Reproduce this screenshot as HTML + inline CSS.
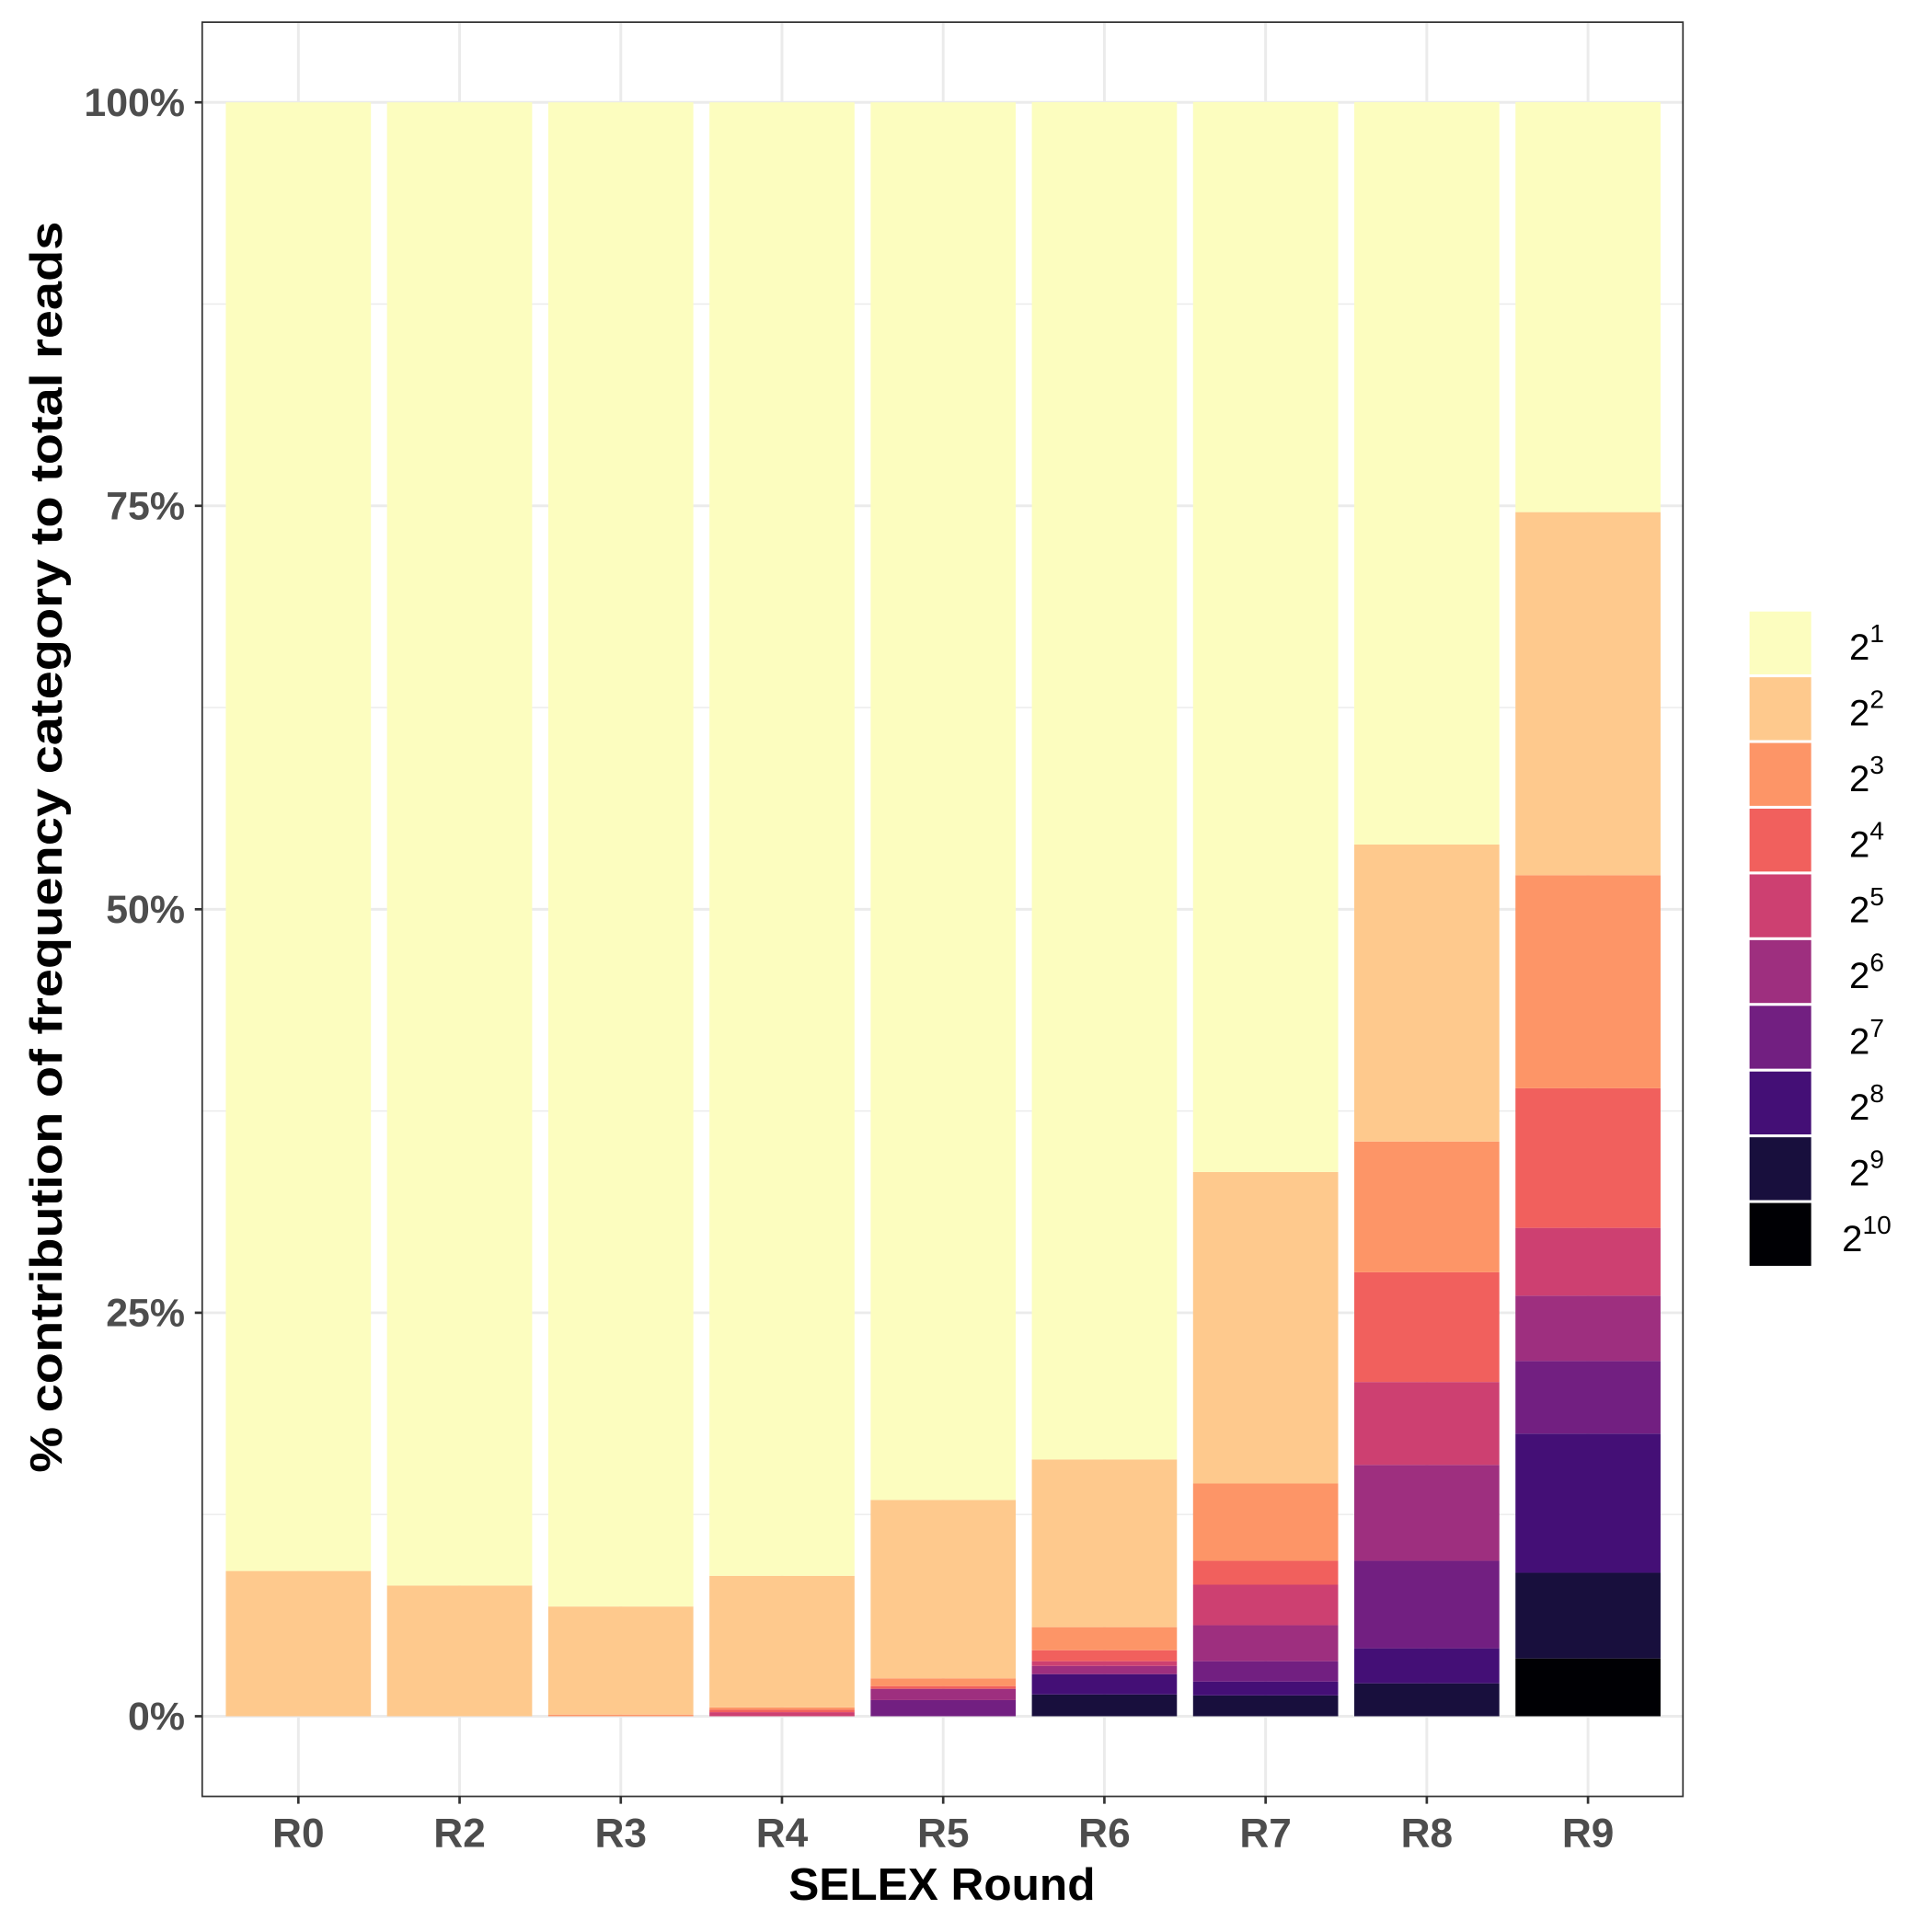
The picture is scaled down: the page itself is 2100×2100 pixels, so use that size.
<!DOCTYPE html>
<html><head><meta charset="utf-8"><style>html,body{margin:0;padding:0;background:#fff}svg{display:block}</style></head>
<body>
<svg id="chart" width="2100" height="2100" viewBox="0 0 1567 1567" xmlns="http://www.w3.org/2000/svg" font-family="'Liberation Sans', sans-serif"></svg>
<script>
const categories = ["R0","R2","R3","R4","R5","R6","R7","R8","R9"];
const seriesNames = ["1","2","3","4","5","6","7","8","9","10"];
const s1  = [91.0, 91.9, 93.2, 91.3, 86.6, 84.1, 66.3, 46.0, 25.4];
const s2  = [9.0, 8.1, 6.7, 8.15, 11.05, 10.39, 19.3, 18.4, 22.5];
const s3  = [0, 0, 0.1, 0.15, 0.48, 1.43, 4.79, 8.1, 13.2];
const s4  = [0, 0, 0, 0.15, 0.17, 0.68, 1.48, 6.8, 8.65];
const s5  = [0, 0, 0, 0.25, 0, 0.29, 2.51, 5.14, 4.2];
const s6  = [0, 0, 0, 0, 0.7, 0.51, 2.23, 5.94, 4.05];
const s7  = [0, 0, 0, 0, 1.0, 0, 1.26, 5.42, 4.5];
const s8  = [0, 0, 0, 0, 0, 1.26, 0.86, 2.17, 8.62];
const s9  = [0, 0, 0, 0, 0, 1.35, 1.29, 2.04, 5.31];
const s10 = [0, 0, 0, 0, 0, 0, 0, 0, 3.58];
const yTicks = [0, 25, 50, 75, 100];
const yTickLabels = ["0%", "25%", "50%", "75%", "100%"];
const colors = ["#FCFDBF","#FEC98D","#FD9567","#F1605D","#CD4071","#9E2F7F","#721F81","#440F76","#180F3D","#000004"];

const NS = "http://www.w3.org/2000/svg";
const svg = document.getElementById("chart");
const P = {l:164, r:1365, t:18, b:1457};
const y = v => 1392 - v * 13.09;
const step = 130.75;
const x = i => 242 + i * step;
const bw = step * 0.9;
function mk(tag, attrs, parent){const e=document.createElementNS(NS,tag);for(const k in attrs)e.setAttribute(k,attrs[k]);(parent||svg).appendChild(e);return e;}

const grid = mk("g",{});


for (let v = -12.5; v <= 112.5; v += 12.5) {
  const yy = y(v); if (yy < P.t || yy > P.b) continue;
  const major = v % 25 === 0;
  mk("line",{x1:P.l,x2:P.r,y1:yy,y2:yy,stroke:"#ebebeb","stroke-width":major?2.2:1.1},grid);
}
categories.forEach((c,i)=>mk("line",{x1:x(i),x2:x(i),y1:P.t,y2:P.b,stroke:"#ebebeb","stroke-width":2.2},grid));

const allSeries = [s1,s2,s3,s4,s5,s6,s7,s8,s9,s10];
categories.forEach((c,i)=>{
  const g = mk("g",{});
  
  
  let cum = 0;
  for (let k = allSeries.length-1; k >= 0; k--) {
    const v = allSeries[k][i]; if (!v) continue;
    const r = mk("rect",{x:x(i)-bw/2,y:y(cum+v),width:bw,height:v*13.09,fill:colors[k]},g);
    
    
    cum += v;
  }
});

const border = mk("rect",{x:P.l,y:P.t,width:P.r-P.l,height:P.b-P.t,fill:"none",stroke:"#333","stroke-width":1.3});



yTicks.forEach((v,i)=>{
  mk("line",{x1:P.l-6,x2:P.l,y1:y(v),y2:y(v),stroke:"#333","stroke-width":2});
  const t = mk("text",{x:P.l-14,y:y(v)+11,"text-anchor":"end","font-size":32,"font-weight":"bold",fill:"#4d4d4d"});
  t.textContent = yTickLabels[i];
  
  
});
categories.forEach((c,i)=>{
  mk("line",{x1:x(i),x2:x(i),y1:P.b,y2:P.b+6,stroke:"#333","stroke-width":2});
  const t = mk("text",{x:x(i),y:P.b+41,"text-anchor":"middle","font-size":33,"font-weight":"bold",fill:"#4d4d4d"});
  t.textContent = c;
  
  
});

const xt = mk("text",{x:764,y:1541,"text-anchor":"middle","font-size":37,"font-weight":"bold",fill:"#000"});
xt.textContent = "SELEX Round";


const yt = mk("text",{x:0,y:0,transform:"translate(50,687) rotate(-90)","text-anchor":"middle","font-size":37,"font-weight":"bold",fill:"#000",textLength:1015,lengthAdjust:"spacingAndGlyphs"});
yt.textContent = "% contribution of frequency category to total reads";



const lg = mk("g",{});


seriesNames.forEach((n,k)=>{
  const top = 496 + k*53.3;
  const e = mk("g",{},lg);
  
  
  mk("rect",{x:1419,y:top,width:50,height:51,fill:colors[k]},e);
  const t = mk("text",{x:1514,y:top+39,"text-anchor":"middle","font-size":30,fill:"#000"},e);
  const a = mk("tspan",{},t); a.textContent = "2";
  const b = mk("tspan",{dy:-14,"font-size":21},t); b.textContent = n;
});
</script>
</body></html>
